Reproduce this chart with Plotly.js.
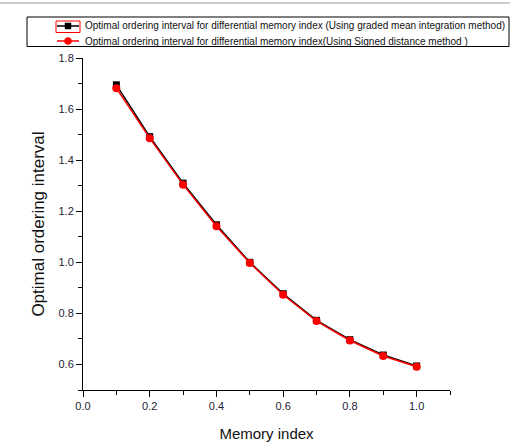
<!DOCTYPE html>
<html>
<head>
<meta charset="utf-8">
<script src="https://cdn.plot.ly/plotly-3.0.1.min.js"></script>
<style>html,body{margin:0;padding:0;background:#fff;}#chart{width:510px;height:443px;}</style>
</head>
<body>
<div id="chart"></div>
<script>
const memoryIndex = [0.1, 0.2, 0.3, 0.4, 0.5, 0.6, 0.7, 0.8, 0.9, 1.0];
const gradedMean = [1.695, 1.492, 1.310, 1.147, 1.000, 0.877, 0.773, 0.697, 0.637, 0.594];
const signedDistance = [1.682, 1.486, 1.304, 1.141, 0.997, 0.873, 0.770, 0.694, 0.633, 0.591];
const seriesNames = [
  "Optimal ordering interval for differential memory index (Using graded mean integration method)",
  "Optimal ordering interval for differential memory index(Using Signed distance method )"
];
const seriesColors = ["#000000", "#ff0000"];

const W = 510, H = 443;
const L = 83, R = 60, T = 58, B = 53;
const pw = W - L - R, ph = H - T - B;
const px = v => (v - L) / pw;
const py = v => (H - B - v) / ph;

const FONT = "Liberation Sans, Arial, sans-serif";

const traces = [
  {
    x: memoryIndex, y: gradedMean, name: seriesNames[0],
    type: "scatter", mode: "lines+markers",
    line: {color: seriesColors[0], width: 1.5},
    marker: {symbol: "square", size: 7, color: seriesColors[0]}
  },
  {
    x: memoryIndex, y: signedDistance, name: seriesNames[1],
    type: "scatter", mode: "lines+markers",
    line: {color: seriesColors[1], width: 1.5},
    marker: {symbol: "circle", size: 8, color: seriesColors[1]}
  }
];

// legend (drawn manually to match the boxed legend)
const rowY = [26, 41];
const legendShapes = [
  {type: "rect", xref: "paper", yref: "paper", x0: px(27), x1: px(509), y0: py(46.5), y1: py(17),
   line: {color: "#000000", width: 1}},
  {type: "rect", xref: "paper", yref: "paper", x0: px(56), x1: px(80), y0: py(32.5), y1: py(21),
   line: {color: "#ff0000", width: 1}},
  {type: "line", xref: "paper", yref: "paper", x0: px(57), x1: px(79), y0: py(rowY[0]), y1: py(rowY[0]),
   line: {color: seriesColors[0], width: 1.5}},
  {type: "rect", xref: "paper", yref: "paper", x0: px(65), x1: px(71), y0: py(rowY[0] + 3), y1: py(rowY[0] - 3),
   fillcolor: seriesColors[0], line: {color: seriesColors[0], width: 0.5}},
  {type: "line", xref: "paper", yref: "paper", x0: px(57), x1: px(79), y0: py(rowY[1]), y1: py(rowY[1]),
   line: {color: seriesColors[1], width: 1.5}},
  {type: "circle", xref: "paper", yref: "paper", x0: px(64.5), x1: px(71.5), y0: py(rowY[1] + 3.5), y1: py(rowY[1] - 3.5),
   fillcolor: seriesColors[1], line: {color: seriesColors[1], width: 0.5}}
];
const legendTexts = seriesNames.map((t, i) => ({
  text: t, xref: "paper", yref: "paper", x: px(82.5), y: py(rowY[i]),
  xanchor: "left", yanchor: "middle", showarrow: false,
  font: {family: FONT, size: 10, color: "#111111"}
}));

const layout = {
  width: W, height: H,
  margin: {l: L, r: R, t: T, b: B, pad: 0},
  paper_bgcolor: "#ffffff", plot_bgcolor: "#ffffff",
  font: {family: FONT, color: "#222222"},
  showlegend: false,
  xaxis: {
    range: [0, 1.1], tick0: 0, dtick: 0.2, tickformat: ".1f",
    showgrid: false, zeroline: false,
    showline: true, linecolor: "#000000", linewidth: 1,
    ticks: "outside", ticklen: 6, tickwidth: 1, tickcolor: "#000000",
    tickfont: {family: FONT, size: 11, color: "#222233"},
    minor: {dtick: 0.1, ticks: "outside", ticklen: 4, tickwidth: 1, tickcolor: "#000000", showgrid: false},
    title: {text: "Memory index", font: {family: FONT, size: 15, color: "#111111"}, standoff: 17}
  },
  yaxis: {
    range: [0.5, 1.8], tick0: 0, dtick: 0.2, tickformat: ".1f",
    showgrid: false, zeroline: false,
    showline: true, linecolor: "#000000", linewidth: 1,
    ticks: "outside", ticklen: 6, tickwidth: 1, tickcolor: "#000000",
    tickfont: {family: FONT, size: 11, color: "#222233"},
    minor: {dtick: 0.1, ticks: "outside", ticklen: 4, tickwidth: 1, tickcolor: "#000000", showgrid: false},
    title: {text: "Optimal ordering interval", font: {family: FONT, size: 17, color: "#111111"}, standoff: 9}
  },
  shapes: [
    {type: "line", xref: "paper", yref: "paper", x0: px(0), x1: px(510), y0: py(3), y1: py(3),
     line: {color: "#999999", width: 1}}
  ].concat(legendShapes),
  annotations: legendTexts
};

Plotly.newPlot("chart", traces, layout, {staticPlot: true, displayModeBar: false});
</script>
</body>
</html>
